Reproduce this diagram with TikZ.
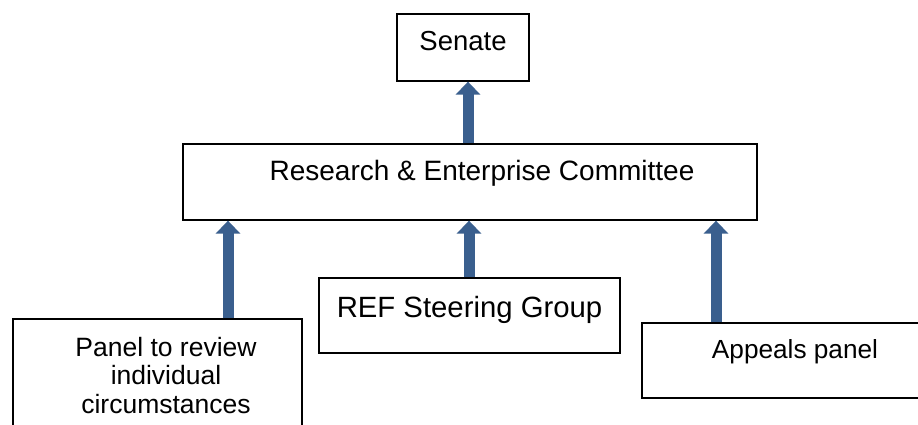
\documentclass[tikz,border=0pt]{standalone}
\usepackage{fontspec}
\setmainfont{Liberation Sans}
\usetikzlibrary{arrows.meta}
\definecolor{arrowblue}{HTML}{3A5F8E}
\tikzset{
  box/.style={draw, line width=1.3pt, inner sep=0pt},
  boxtext/.style={inner sep=0pt, text height=20pt, text depth=6pt},
  uparrow/.style={draw=arrowblue, line width=11pt,
    -{Triangle[width=24pt,length=13pt]}}
}

\begin{document}
\begin{tikzpicture}[x=1pt, y=-1pt]
    \clip (0,0) rectangle (918,425);
    % committee chain
    \node[box, minimum width=132pt, minimum height=67pt,
      label={[boxtext, font=\fontsize{27.5}{33}\selectfont, yshift=4pt]center:Senate}]
      (senate) at (463,47.5) {};
    \node[box, minimum width=574pt, minimum height=76pt,
      label={[boxtext, font=\fontsize{28}{33}\selectfont, xshift=12pt, yshift=8.5pt]center:Research \& Enterprise Committee}]
      (rec) at (470,182) {};
    % groups reporting upwards
    \node[box, minimum width=289pt, minimum height=141pt,
      label={[inner sep=0pt, anchor=north, align=center, font=\fontsize{26.5}{28.5}\selectfont,
        xshift=8.5pt, yshift=-18.5pt]north:Panel to review\\individual\\circumstances}]
      (panel) at (157.5,389.5) {};
    \node[box, minimum width=301pt, minimum height=75pt,
      label={[boxtext, font=\fontsize{29.3}{33}\selectfont, yshift=5.5pt]center:REF Steering Group}]
      (ref) at (469.5,315.5) {};
    \node[box, minimum width=358pt, minimum height=75pt,
      label={[boxtext, font=\fontsize{26.2}{31}\selectfont, xshift=-26pt, yshift=9.5pt]center:Appeals panel}]
      (appeals) at (821,360.5) {};
    % arrow columns
    \coordinate (colT) at (468,0);
    \coordinate (colL) at (228,0);
    \coordinate (colM) at (469,0);
    \coordinate (colR) at (716,0);
    \draw[uparrow] (rec.north -| colT) -- (senate.south -| colT);
    \draw[uparrow] (panel.north -| colL) -- (rec.south -| colL);
    \draw[uparrow] (ref.north -| colM) -- (rec.south -| colM);
    \draw[uparrow] (appeals.north -| colR) -- (rec.south -| colR);
\end{tikzpicture}
\end{document}
